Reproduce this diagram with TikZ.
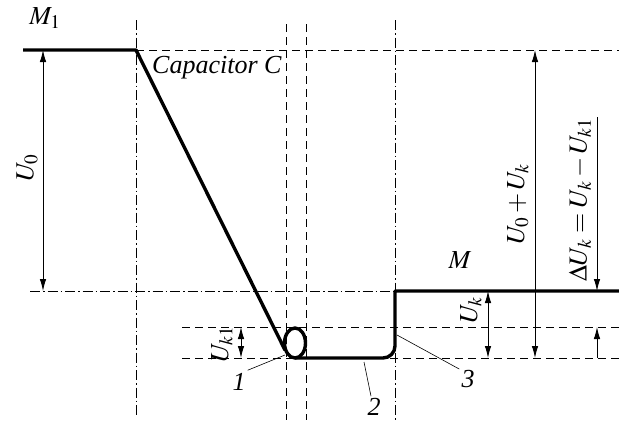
\documentclass[tikz,border=0pt]{standalone}
\usepackage{mathptmx}
\usepackage[no-math]{fontspec}
\setmainfont{Liberation Serif}
\usetikzlibrary{arrows.meta}
\begin{document}
\begin{tikzpicture}[x=1pt,y=-1pt,
  thin/.style={line width=0.9pt,black},
  curve/.style={line width=3.4pt,black,line join=round},
  dsh/.style={thin,dash pattern=on 8pt off 5pt},
  dashdot/.style={thin,dash pattern=on 10pt off 3pt on 1.5pt off 3pt},
  dim/.style={thin,{Latex[length=12pt,width=6.5pt]}-{Latex[length=12pt,width=6.5pt]}},
  lead/.style={line width=0.6pt},
  lbl/.style={font=\fontsize{26}{30}\selectfont,inner sep=0pt},
  rlbl/.style={lbl,rotate=90}]
\useasboundingbox (0,0) rectangle (619,426);
% coordinates
\coordinate (a0) at (23,50);
\coordinate (a1) at (136,50);
\coordinate (a2) at (285,350);
\coordinate (b0) at (295,358);
\coordinate (b1) at (395,291);
\coordinate (b2) at (619,291);
% guide lines
\draw[dsh] (a1) -- (619,50);
\draw[dashdot] (30,291) -- (b1);
\draw[dsh] (182,327) -- (619,327);
\draw[dsh] (182,358) -- (619,358);
\draw[dashdot] (136,20) -- (136,416);
\draw[dsh] (286,24) -- (286,420);
\draw[dsh] (306,24) -- (306,420);
\draw[dashdot] (395,20) -- (395,420);
% main curve
\draw[curve] (a0) -- (a1) -- (a2);
\draw[curve] (295,343) ellipse [x radius=10.5, y radius=15];
\draw[curve] (b0) -- (383,358) arc[start angle=90,end angle=0,radius=12] -- (b1) -- (b2);
% dimension arrows
\draw[dim] (43,50) -- (43,291);
\draw[dim] (535,50) -- (535,358);
\draw[dim] (488,291) -- (488,358);
\draw[dim] (241,327) -- (241,358);
\draw[thin,-{Latex[length=12pt,width=6.5pt]}] (597,117) -- (597,291);
\draw[thin,-{Latex[length=12pt,width=6.5pt]}] (597,358) -- (597,327);
% labels
\node[lbl] (m1) at (45,18) {$M_1$};
\node[lbl,anchor=west] (cap) at (152,68) {\textit{Capacitor C}};
\node[rlbl] (u0) at (27,168) {$U_0$};
\node[lbl] (m) at (460,260) {$M$};
\node[rlbl] (u0uk) at (518,204) {$U_0+U_k$};
\node[rlbl] (duk) at (580,200) {$\Delta U_k=U_k-U_{k1}$};
\node[rlbl] (uk) at (471,310) {$U_k$};
\node[rlbl] (uk1) at (222,344) {$U_{k1}$};
\node[lbl] (n1) at (239,382) {\textit{1}};
\node[lbl] (n2) at (374,407) {\textit{2}};
\node[lbl] (n3) at (468,379) {\textit{3}};
% leaders
\coordinate (p1) at (285,355);
\coordinate (p2) at (364,362);
\coordinate (p3) at (397,335);
\draw[lead] (n1.north east) ++(2,-3) -- (p1);
\draw[lead] (n2.north) ++(-3,-2) -- (p2);
\draw[lead] (n3.north west) ++(-2,-1) -- (p3);
\end{tikzpicture}
\end{document}
